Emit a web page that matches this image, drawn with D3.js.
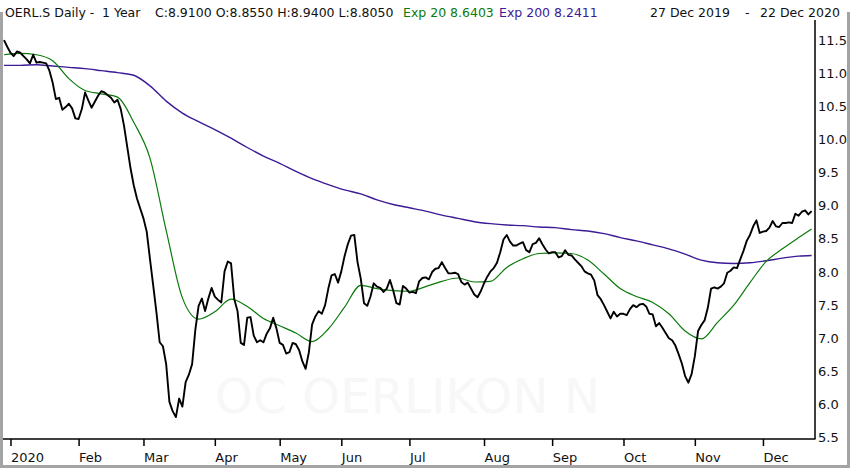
<!DOCTYPE html>
<html>
<head>
<meta charset="utf-8">
<script src="https://cdn.jsdelivr.net/npm/d3@7"></script>
<style>
  html, body { margin: 0; padding: 0; background: #fff; }
  svg { display: block; }
</style>
</head>
<body>
<svg id="chart" width="850" height="468"></svg>
<script>
// ---------------- DATA ----------------
// Daily closes, one per trading day, 27 Dec 2019 .. 22 Dec 2020 (index 0..249)
const closes = [
  11.49,11.39,11.30,11.25,11.32,11.30,11.25,11.20,11.14,11.27,
  11.15,11.16,11.15,11.14,11.03,10.85,10.60,10.62,10.44,10.48,
  10.53,10.46,10.31,10.30,10.45,10.70,10.58,10.47,10.56,10.65,
  10.72,10.70,10.66,10.62,10.55,10.59,10.45,10.20,9.88,9.56,
  9.30,9.10,8.95,8.80,8.60,8.19,7.79,7.38,6.93,6.87,
  6.60,6.03,5.89,5.80,6.08,5.96,6.33,6.44,6.60,7.12,
  7.48,7.59,7.40,7.59,7.75,7.62,7.57,7.53,8.00,8.15,
  8.12,7.58,7.40,6.92,6.89,7.30,7.31,7.03,6.93,6.96,
  6.93,7.06,7.14,7.30,7.14,6.92,6.89,6.76,6.78,6.92,
  6.90,6.81,6.64,6.53,6.78,7.20,7.32,7.40,7.36,7.49,
  7.74,7.94,7.96,7.83,8.00,8.23,8.41,8.54,8.55,8.14,
  7.89,7.52,7.48,7.62,7.82,7.77,7.75,7.69,7.74,7.87,
  7.71,7.52,7.50,7.78,7.74,7.68,7.69,7.67,7.85,7.90,
  7.91,7.88,7.99,8.04,8.05,8.14,8.05,7.97,7.97,7.98,
  7.96,7.84,7.80,7.83,7.74,7.65,7.61,7.70,7.82,7.92,
  8.00,8.05,8.13,8.29,8.48,8.55,8.45,8.39,8.39,8.42,
  8.44,8.32,8.29,8.41,8.43,8.50,8.41,8.33,8.27,8.29,
  8.29,8.21,8.23,8.32,8.25,8.24,8.18,8.13,8.08,8.00,
  7.97,7.95,7.86,7.64,7.58,7.49,7.39,7.29,7.39,7.32,
  7.36,7.36,7.34,7.43,7.49,7.46,7.50,7.51,7.47,7.36,
  7.35,7.17,7.22,7.15,7.07,6.99,6.96,6.88,6.75,6.61,
  6.42,6.32,6.45,6.72,7.10,7.19,7.26,7.45,7.74,7.76,
  7.74,7.77,7.82,7.98,8.01,8.06,8.05,8.18,8.31,8.46,
  8.55,8.68,8.77,8.58,8.60,8.61,8.66,8.76,8.68,8.67,
  8.73,8.73,8.74,8.73,8.87,8.84,8.90,8.92,8.86,8.91
];

// Exponential moving averages, read every 5 trading days
const emaDays = [0,5,10,15,20,25,30,35,40,45,50,55,60,65,70,75,80,85,90,95,
  100,105,110,115,120,125,130,135,140,145,150,155,160,165,170,175,180,185,190,195,
  200,205,210,215,220,225,230,235,240,245,249];
const ema20 = [11.27,11.29,11.27,11.18,10.91,10.73,10.68,10.63,10.25,9.71,
  8.62,7.60,7.28,7.39,7.58,7.47,7.29,7.18,7.07,6.94,
  7.13,7.46,7.79,7.74,7.71,7.70,7.77,7.85,7.90,7.84,
  7.85,8.06,8.19,8.27,8.28,8.27,8.17,7.96,7.74,7.62,
  7.53,7.36,7.10,6.98,7.23,7.49,7.83,8.15,8.34,8.51,8.64];
const ema200 = [11.11,11.11,11.12,11.10,11.08,11.06,11.03,11.00,10.96,10.80,
  10.57,10.39,10.26,10.14,10.01,9.87,9.74,9.63,9.51,9.40,
  9.31,9.23,9.17,9.08,9.01,8.96,8.91,8.85,8.80,8.75,
  8.72,8.70,8.69,8.67,8.66,8.63,8.61,8.57,8.51,8.46,
  8.40,8.34,8.26,8.17,8.13,8.12,8.13,8.16,8.20,8.23,8.24];

// Month ticks (trading-day index of first session of month)
const monthTickDays = [2,23,43,65,85,104,125,148,169,191,213,234];
const monthLabels = ["2020","Feb","Mar","Apr","May","Jun","Jul","Aug","Sep","Oct","Nov","Dec"];
const yTicks = [5.5,6.0,6.5,7.0,7.5,8.0,8.5,9.0,9.5,10.0,10.5,11.0,11.5];

const headerName = "OERL.S Daily -";
const headerPeriod = "1 Year";
const headerOHLC = "C:8.9100 O:8.8550 H:8.9400 L:8.8050";
const headerEma20 = "Exp 20 8.6403";
const headerEma200 = "Exp 200 8.2411";
const headerFrom = "27 Dec 2019";
const headerTo = "22 Dec 2020";
const watermark = "OC OERLIKON N";

// ---------------- DRAW ----------------
const svg = d3.select("#chart");
const plot = {left: 3, right: 815, top: 20, bottom: 439};
const font = "'DejaVu Sans', Verdana, sans-serif";

const x = d3.scaleLinear().domain([0, closes.length - 1]).range([4, 811.6]);
const y = d3.scaleLinear().domain([5.5, 11.5]).range([437, 39.5]);

// outer frame
svg.append("path")
  .attr("d", "M1.5,12 V466.5 H848.5 V12")
  .attr("fill", "none").attr("stroke", "#a4a4a4").attr("stroke-width", 3);

// watermark
svg.append("text")
  .attr("x", 215).attr("y", 413)
  .attr("font-family", font).attr("font-size", 48)
  .attr("textLength", 385)
  .attr("fill", "#f7f7f7")
  .text(watermark);

// header
const hdr = svg.append("g").attr("font-family", font).attr("font-size", 12.5).attr("fill", "#111");
hdr.append("text").attr("x", 5).attr("y", 17).text(headerName);
hdr.append("text").attr("x", 102).attr("y", 17).text(headerPeriod);
hdr.append("text").attr("x", 155).attr("y", 17).text(headerOHLC);
hdr.append("text").attr("x", 403).attr("y", 17).attr("fill", "#0b7a0b").text(headerEma20);
hdr.append("text").attr("x", 499).attr("y", 17).attr("fill", "#3d1a96").text(headerEma200);
hdr.append("text").attr("x", 650).attr("y", 17).text(headerFrom);
hdr.append("text").attr("x", 745).attr("y", 17).text("-");
hdr.append("text").attr("x", 760).attr("y", 17).text(headerTo);

// clip
svg.append("defs").append("clipPath").attr("id", "clip")
  .append("rect").attr("x", plot.left).attr("y", plot.top)
  .attr("width", plot.right - plot.left).attr("height", plot.bottom - plot.top);

const g = svg.append("g").attr("clip-path", "url(#clip)");

const emaLine = d3.line().x(d => x(d[0])).y(d => y(d[1])).curve(d3.curveMonotoneX);
g.append("path")
  .attr("d", emaLine(emaDays.map((d, i) => [d, ema200[i]])))
  .attr("fill", "none").attr("stroke", "#3d1a96").attr("stroke-width", 1.4);
g.append("path")
  .attr("d", emaLine(emaDays.map((d, i) => [d, ema20[i]])))
  .attr("fill", "none").attr("stroke", "#0b7a0b").attr("stroke-width", 1.2);

const priceLine = d3.line().x((d, i) => x(i)).y(d => y(d));
g.append("path")
  .attr("d", priceLine(closes))
  .attr("fill", "none").attr("stroke", "#000").attr("stroke-width", 1.9)
  .attr("stroke-linejoin", "round");

// axes lines
svg.append("line").attr("x1", plot.left).attr("x2", plot.right + 0.5)
  .attr("y1", plot.bottom).attr("y2", plot.bottom)
  .attr("stroke", "#000").attr("stroke-width", 1.5);
svg.append("line").attr("x1", plot.right).attr("x2", plot.right)
  .attr("y1", plot.top).attr("y2", plot.bottom)
  .attr("stroke", "#000").attr("stroke-width", 1.5);

// x axis
const xAxis = d3.axisBottom(x)
  .tickValues(monthTickDays)
  .tickFormat((d, i) => monthLabels[i])
  .tickSize(7).tickSizeOuter(0);
const gx = svg.append("g").attr("transform", `translate(0,${plot.bottom})`).call(xAxis);
gx.select(".domain").remove();
gx.selectAll(".tick line").attr("stroke", "#000").attr("stroke-width", 1.5);
gx.selectAll(".tick text")
  .attr("font-family", font).attr("font-size", 13).attr("fill", "#111")
  .attr("text-anchor", "start").attr("x", 0).attr("y", 23).attr("dy", 0);

// y axis
const yAxis = d3.axisRight(y).tickValues(yTicks).tickFormat(d3.format(".1f")).tickSize(0);
const gy = svg.append("g").attr("transform", `translate(${plot.right},0)`).call(yAxis);
gy.select(".domain").remove();
gy.selectAll(".tick text")
  .attr("font-family", font).attr("font-size", 13).attr("fill", "#111")
  .attr("x", 3).attr("dy", "0.36em");
</script>
</body>
</html>
